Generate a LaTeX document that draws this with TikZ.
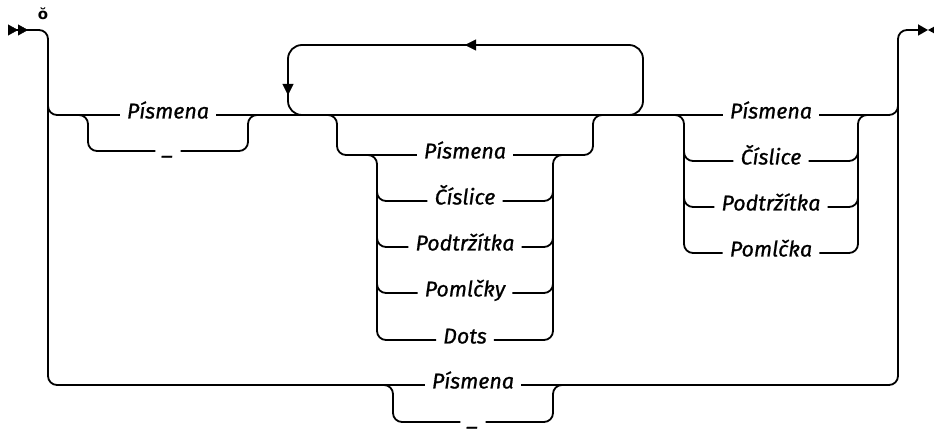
\documentclass[tikz,border=0pt]{standalone}
\usepackage{fontspec}
\setmainfont{Fira Sans}
\newfontfamily\termfont{Fira Sans}[ItalicFeatures={FakeBold=0.8}]
\newfontfamily\markfont{DejaVu Sans}
\usetikzlibrary{arrows.meta}
\tikzset{
  rail/.style={draw=black,line width=1.8bp,rounded corners=9bp},
  loopline/.style={rail,rounded corners=14bp},
  term/.style={draw=none,font=\termfont\fontsize{21.5}{24}\selectfont\itshape,inner xsep=7bp,inner ysep=0pt,text height=0.72em,text depth=0.02em},
  tip/.style={-{Triangle[length=11bp,width=11bp]}},
}
\begin{document}
\begin{tikzpicture}[>=latex,line join=round]
\useasboundingbox (0bp,0bp) rectangle (934bp,430bp);
%%
\coordinate (start) at (8bp,400bp);
\coordinate (stop) at (928bp,400bp);
\node (node_mark) at (43bp,416bp) [draw=none,font=\markfont\bfseries\fontsize{15}{15}\selectfont] {ŏ};
%
\node (node_pis1) at (168bp,315bp) [term] {Písmena};
\node (node_und1) at (168bp,279bp) [term] {\_};
\node (node_pis2) at (465bp,275bp) [term] {Písmena};
\node (node_cis2) at (465bp,229bp) [term] {Číslice};
\node (node_pod2) at (465bp,183bp) [term] {Podtržítka};
\node (node_pom2) at (465bp,137bp) [term] {Pomlčky};
\node (node_dot2) at (465bp,90bp) [term] {Dots};
\node (node_pis3) at (771bp,315bp) [term] {Písmena};
\node (node_cis3) at (771bp,269bp) [term] {Číslice};
\node (node_pod3) at (771bp,223bp) [term] {Podtržítka};
\node (node_pom3) at (771bp,177bp) [term] {Pomlčka};
\node (node_pis4) at (473bp,45bp) [term] {Písmena};
\node (node_und4) at (473bp,8bp) [term] {\_};
%
\draw [rail] (start) -- (48bp,400bp) -- (48bp,45bp) -- (node_pis4.west);
\draw [rail,-{Triangle[length=10bp,width=11bp]}] (node_pis4.east) -- (898bp,45bp) -- (898bp,400bp) -- (stop);
\draw [-{Triangle[length=10bp,width=11bp]Triangle[length=10bp,width=11bp]}] (start) -- (28bp,400bp);
\fill (stop) -- (938bp,405.5bp) -- (938bp,394.5bp) -- cycle;
\draw [rail] (48bp,330bp) -- (48bp,315bp) -- (node_pis1.west);
\draw [rail] (node_pis1.east) -- (node_pis3.west);
\draw [rail] (node_pis3.east) -- (898bp,315bp) -- (898bp,330bp);
% first choice
\draw [rail] (73bp,315bp) -- (88bp,315bp) -- (88bp,279bp) -- (node_und1.west);
\draw [rail] (node_und1.east) -- (248bp,279bp) -- (248bp,315bp) -- (263bp,315bp);
% repeat loop
\draw [loopline] (628bp,315bp) -- (643bp,315bp) -- (643bp,385bp) -- (288bp,385bp) -- (288bp,315bp) -- (303bp,315bp);
\draw [tip] (480bp,385bp) -- (465bp,385bp);
\draw [tip] (288bp,350bp) -- (288bp,335bp);
% inner choice
\draw [rail] (322bp,315bp) -- (337bp,315bp) -- (337bp,275bp) -- (node_pis2.west);
\draw [rail] (node_pis2.east) -- (593bp,275bp) -- (593bp,315bp) -- (608bp,315bp);
\draw [rail] (362bp,275bp) -- (377bp,275bp) -- (377bp,90bp) -- (node_dot2.west);
\draw [rail] (node_dot2.east) -- (553bp,90bp) -- (553bp,275bp) -- (568bp,275bp);
\foreach \n in {cis2,pod2,pom2} {
  \draw [rail] (377bp,260bp) |- (node_\n.west);
  \draw [rail] (node_\n.east) -| (553bp,260bp);
}
% last choice
\draw [rail] (669bp,315bp) -- (684bp,315bp) -- (684bp,177bp) -- (node_pom3.west);
\draw [rail] (node_pom3.east) -- (858bp,177bp) -- (858bp,315bp) -- (873bp,315bp);
\foreach \n in {cis3,pod3} {
  \draw [rail] (684bp,300bp) |- (node_\n.west);
  \draw [rail] (node_\n.east) -| (858bp,300bp);
}
% bottom choice
\draw [rail] (378bp,45bp) -- (393bp,45bp) -- (393bp,8bp) -- (node_und4.west);
\draw [rail] (node_und4.east) -- (553bp,8bp) -- (553bp,45bp) -- (568bp,45bp);
%
\end{tikzpicture}
\end{document}
